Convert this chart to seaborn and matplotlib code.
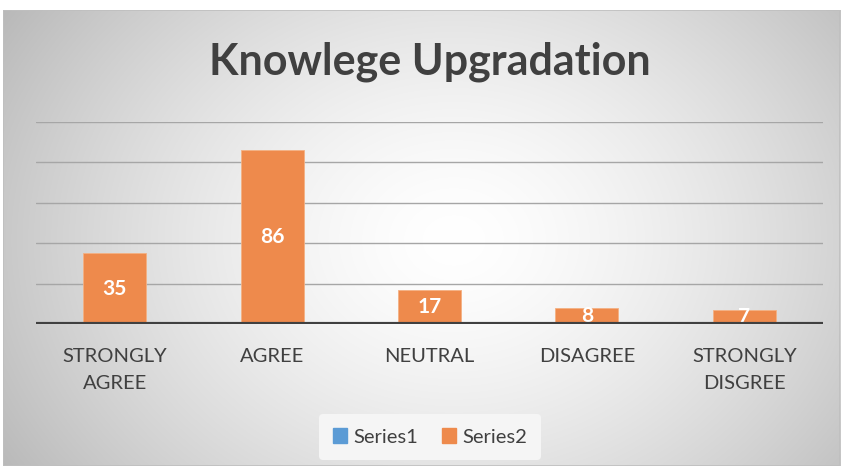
import numpy as np
import pandas as pd
import seaborn as sns
import matplotlib.pyplot as plt
from matplotlib.patches import Patch, Rectangle

# data
categories = ['STRONGLY\nAGREE', 'AGREE', 'NEUTRAL', 'DISAGREE', 'STRONGLY\nDISGREE']
series2 = [35, 86, 17, 8, 7]
legend_labels = ['Series1', 'Series2']
colors = ['#5b9bd5', '#ee8a4c']
title = 'Knowlege Upgradation'

df = pd.DataFrame({'Response': categories, 'Count': series2})

sns.set_style('white')
plt.rcParams['font.family'] = ['Lato', 'DejaVu Sans']
text_col = '#404040'

W, H = 846, 471
fig = plt.figure(figsize=(W / 100, H / 100), dpi=100)
fig.patch.set_facecolor('white')

# radial grey gradient behind the chart
bg = fig.add_axes([3 / W, 1 - 466 / H, 837 / W, 456 / H])
yy, xx = np.mgrid[0:456, 0:837]
cx, cy = 450, 230
r = np.sqrt(((xx - cx) / 500) ** 2 + ((yy - cy) / 400) ** 2)
g = 1 - 0.25 * np.clip(r, 0, 1.2) ** 1.5
bg.imshow(np.dstack([g, g, g]), aspect='auto', extent=(0, 1, 0, 1))
bg.set_xlim(0, 1)
bg.set_ylim(0, 1)
bg.axis('off')
bg.add_patch(Rectangle((0, 0), 1, 1, fill=False, ec='#bfbfbf', lw=1.2,
                       transform=bg.transAxes))

ax = fig.add_axes([36 / W, 1 - 324 / H, 787 / W, 202 / H])
ax.set_facecolor('none')
sns.barplot(data=df, x='Response', y='Count', color=colors[1], width=0.4,
            saturation=1, ax=ax, zorder=3, edgecolor='#f4b183', linewidth=0.6)
ax.bar_label(ax.containers[0], label_type='center', color='white',
             fontsize=15, fontweight='bold')

ax.set_ylim(0, 100)
ax.set_xlim(-0.5, 4.5)
ax.set_yticks(range(0, 101, 20))
ax.set_yticklabels([])
ax.grid(axis='y', color='#a6a6a6', lw=1, zorder=0)
ax.axhline(0, color=text_col, lw=3, zorder=4)
for s in ax.spines.values():
    s.set_visible(False)
ax.tick_params(axis='both', length=0)
ax.tick_params(axis='x', pad=17, labelsize=14.5, labelcolor=text_col)
ax.set_xlabel('')
ax.set_ylabel('')
for lab in ax.get_xticklabels():
    lab.set_linespacing(1.75)

fig.text(430 / W, 1 - 62 / H, title, ha='center', va='center',
         fontsize=31, fontweight='bold', color=text_col)

handles = [Patch(facecolor=c, edgecolor=c) for c in colors]
leg = fig.legend(handles, legend_labels, loc='center', ncol=2,
                 bbox_to_anchor=(430 / W, 1 - 437 / H), frameon=True,
                 fontsize=14.5, handlelength=0.7, handleheight=0.7,
                 handletextpad=0.3, columnspacing=1.2, borderpad=0.7)
leg.get_frame().set_facecolor('#f5f5f5')
leg.get_frame().set_edgecolor('none')
leg.get_frame().set_alpha(1)
for t in leg.get_texts():
    t.set_color(text_col)

fig.savefig('out.png', dpi=100)
